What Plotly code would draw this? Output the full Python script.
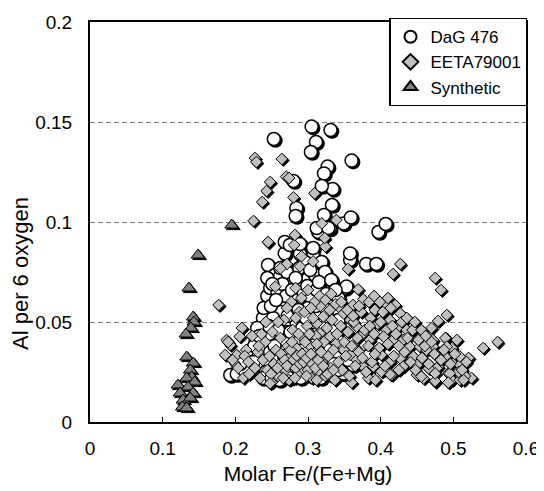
import plotly.graph_objects as go

# ---------------- data ----------------
SERIES_NAMES = ["DaG 476", "EETA79001", "Synthetic"]

DAG_POINTS = [
    (0.253, 0.1415), (0.305, 0.1477), (0.331, 0.146), (0.311, 0.140), (0.304, 0.135),
    (0.360, 0.1307), (0.327, 0.1277), (0.322, 0.1243), (0.334, 0.1165), (0.280, 0.1205),
    (0.319, 0.118), (0.284, 0.107), (0.283, 0.103), (0.333, 0.1085), (0.322, 0.1035),
    (0.349, 0.0993), (0.359, 0.1023), (0.330, 0.0968), (0.314, 0.095), (0.397, 0.095),
    (0.407, 0.099), (0.268, 0.0843), (0.289, 0.084), (0.307, 0.083), (0.358, 0.081),
    (0.312, 0.097), (0.328, 0.097), (0.268, 0.090), (0.275, 0.0885), (0.289, 0.089),
    (0.307, 0.087), (0.358, 0.0843), (0.380, 0.079), (0.394, 0.079), (0.351, 0.067),
    (0.245, 0.0785), (0.255, 0.0735), (0.353, 0.0677),
    (0.2546, 0.0735), (0.2615, 0.0727), (0.2707, 0.0677), (0.2798, 0.0702), (0.2913, 0.071),
    (0.3004, 0.0718), (0.3096, 0.0735), (0.3188, 0.080), (0.3234, 0.075),
    (0.250, 0.060), (0.243, 0.0577), (0.2546, 0.056), (0.266, 0.060), (0.275, 0.0568),
    (0.282, 0.0543), (0.291, 0.0585), (0.241, 0.0518), (0.250, 0.0485), (0.261, 0.051),
    (0.273, 0.0485), (0.284, 0.050), (0.2935, 0.0518), (0.305, 0.0535), (0.241, 0.045),
    (0.257, 0.0427), (0.271, 0.045), (0.296, 0.0485), (0.310, 0.046), (0.323, 0.050),
    (0.200, 0.0243), (0.193, 0.0235), (0.202, 0.024), (0.218, 0.0277), (0.215, 0.031),
    (0.222, 0.036), (0.228, 0.041), (0.232, 0.033), (0.236, 0.028), (0.240, 0.038),
    (0.245, 0.030), (0.248, 0.035), (0.252, 0.040), (0.255, 0.026), (0.258, 0.031),
    (0.262, 0.037), (0.266, 0.024), (0.270, 0.029), (0.275, 0.034), (0.279, 0.039),
    (0.283, 0.025), (0.287, 0.031), (0.292, 0.036), (0.297, 0.027), (0.302, 0.032),
    (0.306, 0.040), (0.311, 0.028), (0.316, 0.035), (0.321, 0.0243), (0.325, 0.030),
    (0.333, 0.0235), (0.338, 0.033), (0.349, 0.0243), (0.362, 0.0285), (0.381, 0.0327),
    (0.344, 0.040), (0.330, 0.043), (0.318, 0.041), (0.300, 0.044), (0.288, 0.042),
    (0.268, 0.041), (0.247, 0.044), (0.235, 0.046), (0.238, 0.052), (0.244, 0.063),
    (0.248, 0.067), (0.239, 0.057), (0.258, 0.065), (0.265, 0.069), (0.270, 0.063),
    (0.278, 0.066), (0.286, 0.061), (0.294, 0.064), (0.299, 0.068), (0.305, 0.062),
    (0.312, 0.066), (0.318, 0.060), (0.325, 0.064), (0.330, 0.058), (0.336, 0.054),
    (0.328, 0.052), (0.314, 0.055), (0.300, 0.057), (0.279, 0.058), (0.262, 0.055),
    (0.252, 0.052), (0.246, 0.048), (0.259, 0.046), (0.276, 0.045), (0.292, 0.047),
    (0.306, 0.050), (0.320, 0.047), (0.334, 0.047), (0.342, 0.051), (0.230, 0.047),
    (0.226, 0.038), (0.233, 0.043), (0.242, 0.025), (0.261, 0.021), (0.275, 0.022),
    (0.290, 0.022), (0.305, 0.023), (0.318, 0.022), (0.342, 0.026), (0.355, 0.031),
    (0.350, 0.037), (0.262, 0.077), (0.271, 0.075), (0.288, 0.077), (0.296, 0.080),
    (0.303, 0.076), (0.283, 0.072), (0.244, 0.072), (0.251, 0.069), (0.315, 0.070),
    (0.332, 0.071), (0.342, 0.062), (0.338, 0.066), (0.249, 0.058), (0.256, 0.061),
    (0.272, 0.053), (0.287, 0.056), (0.297, 0.052), (0.311, 0.058), (0.326, 0.056),
    (0.225, 0.030), (0.212, 0.026), (0.207, 0.029), (0.238, 0.022), (0.250, 0.022),
    (0.296, 0.029), (0.309, 0.034), (0.281, 0.030), (0.267, 0.033), (0.254, 0.038),
    (0.314, 0.027), (0.327, 0.036), (0.336, 0.029), (0.371, 0.030), (0.366, 0.035),
]

EETA_POINTS = [
    (0.227, 0.132), (0.229, 0.130), (0.264, 0.1315), (0.270, 0.1227), (0.274, 0.122),
    (0.248, 0.120), (0.243, 0.1155), (0.237, 0.110), (0.280, 0.1123), (0.309, 0.1143),
    (0.225, 0.1005), (0.319, 0.0993), (0.339, 0.101), (0.245, 0.0898), (0.281, 0.0885),
    (0.324, 0.0877), (0.177, 0.0585), (0.245, 0.090), (0.271, 0.079), (0.282, 0.0935),
    (0.323, 0.092), (0.291, 0.0828), (0.289, 0.0778), (0.307, 0.0803), (0.262, 0.0768),
    (0.355, 0.0765), (0.427, 0.079), (0.417, 0.074), (0.475, 0.072), (0.483, 0.066),
    (0.255, 0.0677),
    (0.491, 0.0535), (0.479, 0.0505), (0.470, 0.047), (0.561, 0.040), (0.541, 0.037),
    (0.521, 0.032), (0.525, 0.022), (0.505, 0.041), (0.490, 0.042), (0.509, 0.0285),
    (0.493, 0.0243), (0.498, 0.021), (0.509, 0.021), (0.516, 0.023), (0.475, 0.020),
    (0.459, 0.0218), (0.450, 0.0235), (0.415, 0.0235), (0.383, 0.022), (0.360, 0.0197),
    (0.250, 0.0197), (0.413, 0.0238), (0.404, 0.026),
    (0.507, 0.025), (0.514, 0.021), (0.495, 0.0243), (0.493, 0.0197), (0.475, 0.0205),
    (0.489, 0.042), (0.498, 0.037), (0.489, 0.0327), (0.479, 0.0327), (0.509, 0.0327),
    (0.479, 0.0277), (0.477, 0.0268), (0.472, 0.0377), (0.472, 0.041), (0.491, 0.0377),
    (0.369, 0.0663), (0.376, 0.0613), (0.362, 0.0585), (0.392, 0.056), (0.408, 0.0585),
    (0.420, 0.0585), (0.427, 0.0543), (0.413, 0.051), (0.408, 0.046), (0.422, 0.0468),
    (0.436, 0.046), (0.404, 0.0427), (0.417, 0.041), (0.431, 0.041), (0.440, 0.0377),
    (0.454, 0.0377), (0.463, 0.036), (0.445, 0.0327), (0.427, 0.0318), (0.413, 0.0302),
    (0.401, 0.0335), (0.395, 0.036), (0.385, 0.041), (0.376, 0.0443), (0.367, 0.0477),
    (0.358, 0.051), (0.349, 0.0543), (0.342, 0.0577), (0.330, 0.056), (0.321, 0.0527),
    (0.312, 0.0493), (0.3165, 0.0443), (0.330, 0.0427), (0.339, 0.0393), (0.349, 0.036),
    (0.358, 0.0335), (0.367, 0.031), (0.376, 0.0277), (0.390, 0.0277), (0.401, 0.0252),
    (0.431, 0.0277), (0.450, 0.0285), (0.466, 0.0268), (0.475, 0.0243), (0.456, 0.0227),
    (0.188, 0.041), (0.193, 0.0385), (0.186, 0.0335), (0.202, 0.0335), (0.200, 0.029),
    (0.204, 0.027), (0.209, 0.047), (0.206, 0.0427), (0.190, 0.040), (0.196, 0.031),
    (0.211, 0.022), (0.215, 0.036), (0.219, 0.024), (0.223, 0.043), (0.227, 0.027),
    (0.231, 0.035), (0.234, 0.022), (0.238, 0.031), (0.241, 0.040), (0.244, 0.026),
    (0.247, 0.033), (0.251, 0.045), (0.253, 0.029), (0.256, 0.036), (0.259, 0.023),
    (0.262, 0.042), (0.264, 0.030), (0.267, 0.051), (0.269, 0.026), (0.272, 0.038),
    (0.274, 0.021), (0.277, 0.033), (0.279, 0.046), (0.281, 0.028), (0.284, 0.037),
    (0.286, 0.024), (0.288, 0.055), (0.290, 0.031), (0.293, 0.042), (0.295, 0.026),
    (0.297, 0.035), (0.299, 0.048), (0.301, 0.029), (0.303, 0.038), (0.305, 0.022),
    (0.307, 0.052), (0.309, 0.032), (0.311, 0.043), (0.313, 0.025), (0.315, 0.037),
    (0.317, 0.058), (0.319, 0.030), (0.322, 0.040), (0.324, 0.023), (0.326, 0.047),
    (0.328, 0.033), (0.331, 0.027), (0.333, 0.051), (0.335, 0.036), (0.337, 0.021),
    (0.340, 0.044), (0.342, 0.030), (0.345, 0.048), (0.347, 0.026), (0.350, 0.040),
    (0.352, 0.033), (0.355, 0.045), (0.357, 0.023), (0.360, 0.038), (0.363, 0.050),
    (0.365, 0.028), (0.368, 0.042), (0.370, 0.035), (0.373, 0.055), (0.375, 0.032),
    (0.378, 0.046), (0.380, 0.025), (0.383, 0.038), (0.386, 0.052), (0.388, 0.030),
    (0.391, 0.044), (0.393, 0.021), (0.396, 0.049), (0.398, 0.037), (0.403, 0.055),
    (0.406, 0.028), (0.410, 0.039), (0.414, 0.057), (0.418, 0.033), (0.421, 0.044),
    (0.425, 0.026), (0.429, 0.050), (0.433, 0.035), (0.437, 0.042), (0.441, 0.030),
    (0.444, 0.046), (0.448, 0.026), (0.452, 0.041), (0.457, 0.032), (0.461, 0.038),
    (0.466, 0.029), (0.470, 0.040), (0.474, 0.034), (0.483, 0.031), (0.487, 0.036),
    (0.496, 0.029), (0.502, 0.034), (0.512, 0.026), (0.518, 0.030),
    (0.263, 0.034), (0.268, 0.031), (0.271, 0.028), (0.276, 0.036), (0.280, 0.031),
    (0.283, 0.027), (0.285, 0.033), (0.289, 0.029), (0.292, 0.034), (0.294, 0.030),
    (0.298, 0.032), (0.300, 0.026), (0.304, 0.034), (0.306, 0.029), (0.310, 0.027),
    (0.314, 0.031), (0.318, 0.035), (0.321, 0.028), (0.278, 0.040), (0.287, 0.044),
    (0.296, 0.040), (0.302, 0.044), (0.312, 0.039), (0.258, 0.027), (0.249, 0.024),
    (0.266, 0.022), (0.282, 0.022), (0.298, 0.023), (0.312, 0.021), (0.327, 0.024),
    (0.335, 0.026),
    (0.277, 0.060), (0.291, 0.062), (0.300, 0.066), (0.309, 0.060),
    (0.316, 0.063), (0.324, 0.061), (0.332, 0.064), (0.338, 0.059), (0.271, 0.057),
    (0.283, 0.052), (0.295, 0.055), (0.304, 0.057), (0.242, 0.050),
    (0.236, 0.044), (0.232, 0.038), (0.213, 0.033), (0.218, 0.030), (0.259, 0.050),
    (0.346, 0.060), (0.354, 0.056), (0.362, 0.053), (0.370, 0.058), (0.384, 0.060),
    (0.391, 0.063), (0.399, 0.060), (0.410, 0.062), (0.400, 0.050), (0.385, 0.048),
    (0.392, 0.034), (0.416, 0.048), (0.425, 0.038), (0.436, 0.052), (0.447, 0.050),
    (0.456, 0.046), (0.462, 0.043), (0.283, 0.067), (0.2477, 0.0193),
]

SYNTH_POINTS = [
    (0.195, 0.0985), (0.1486, 0.0835), (0.136, 0.067), (0.142, 0.0525), (0.143, 0.050),
    (0.139, 0.047), (0.132, 0.044), (0.133, 0.0325), (0.142, 0.0295), (0.138, 0.026),
    (0.140, 0.0225), (0.133, 0.022), (0.144, 0.020), (0.121, 0.0185), (0.135, 0.0175),
    (0.124, 0.0145), (0.142, 0.0145), (0.128, 0.011), (0.138, 0.012), (0.127, 0.0075),
    (0.133, 0.007),
]

X_TICKS = [0, 0.1, 0.2, 0.3, 0.4, 0.5, 0.6]
X_TICK_TEXT = ["0", "0.1", "0.2", "0.3", "0.4", "0.5", "0.6"]
Y_TICKS = [0, 0.05, 0.1, 0.15, 0.2]
Y_TICK_TEXT = ["0", "0.05", "0.1", "0.15", "0.2"]
X_TITLE = "Molar Fe/(Fe+Mg)"
Y_TITLE = "Al per 6 oxygen"

# ---------------- layout constants ----------------
# the page body has an 8px margin, so the figure starts at (8, 8) in the window
W, H = 536, 483
ML, MR, MT, MB = 82, 18, 14, 69
PW, PH = W - ML - MR, H - MT - MB
XR = [0, 0.6]
YR = [0, 0.2]
SHADOW_PX = 1.6
dx = SHADOW_PX * (XR[1] - XR[0]) / PW
dy = SHADOW_PX * (YR[1] - YR[0]) / PH

FONT = "Liberation Sans, Arial, sans-serif"

styles = [
    dict(symbol="circle", size=13, color="white", line=dict(color="black", width=1.5)),
    dict(symbol="diamond", size=9, color="#c0c0c0", line=dict(color="black", width=1)),
    dict(symbol="triangle-up", size=12, color="#808080", line=dict(color="black", width=1)),
]
datasets = [DAG_POINTS, EETA_POINTS, SYNTH_POINTS]

fig = go.Figure()

# empty trace so the main (visible) axes are drawn
fig.add_trace(go.Scatter(x=[None], y=[None], mode="markers", xaxis="x", yaxis="y",
                         showlegend=False, hoverinfo="skip"))

# shadow layer: hidden overlay axes x2/y2 whose ranges are shifted a couple of pixels
for pts, st in zip(datasets, styles):
    fig.add_trace(go.Scatter(
        x=[p[0] for p in pts], y=[p[1] for p in pts], mode="markers",
        marker=dict(symbol=st["symbol"], size=st["size"], color="black",
                    line=dict(color="black", width=st["line"]["width"])),
        xaxis="x2", yaxis="y2", showlegend=False, hoverinfo="skip"))

# visible series on hidden overlay axes x3/y3 (same range as the main axes)
for name, pts, st in zip(SERIES_NAMES, datasets, styles):
    fig.add_trace(go.Scatter(
        x=[p[0] for p in pts], y=[p[1] for p in pts], mode="markers", name=name,
        marker=st, xaxis="x3", yaxis="y3"))

hidden = dict(showgrid=False, zeroline=False, showticklabels=False, ticks="",
              showline=False)

fig.update_layout(
    width=W, height=H,
    margin=dict(l=ML, r=MR, t=MT, b=MB, autoexpand=False),
    paper_bgcolor="white", plot_bgcolor="white",
    font=dict(family=FONT, size=19, color="black"),
    showlegend=True,
    legend=dict(x=1.003, y=1.01, xanchor="right", yanchor="top",
                bgcolor="white", bordercolor="black", borderwidth=1.2,
                font=dict(size=17), tracegroupgap=0, itemsizing="constant"),
    xaxis=dict(range=XR, tickvals=X_TICKS, ticktext=X_TICK_TEXT,
               ticks="inside", ticklen=5, tickcolor="black", tickwidth=1,
               ticklabelstandoff=8,
               showline=True, linecolor="black", linewidth=2, mirror=True,
               showgrid=False, zeroline=False,
               title=dict(text=X_TITLE, font=dict(size=21), standoff=9),
               tickfont=dict(size=19)),
    yaxis=dict(range=YR, tickvals=Y_TICKS, ticktext=Y_TICK_TEXT, ticks="",
               ticklabelstandoff=12,
               showline=True, linecolor="black", linewidth=2, mirror=True,
               showgrid=True, gridcolor="#808080", gridwidth=1, griddash="5px,3px",
               zeroline=False, tickfont=dict(size=19)),
    xaxis2=dict(range=[XR[0] - dx, XR[1] - dx], overlaying="x", anchor="y2", **hidden),
    yaxis2=dict(range=[YR[0] + dy, YR[1] + dy], overlaying="y", anchor="x2", **hidden),
    xaxis3=dict(range=XR, overlaying="x", anchor="y3", **hidden),
    yaxis3=dict(range=YR, overlaying="y", anchor="x3", **hidden),
    annotations=[dict(text=Y_TITLE, textangle=-90, xref="paper", yref="paper",
                      x=0, y=0.37, xshift=-70, xanchor="center", yanchor="middle",
                      showarrow=False, font=dict(size=22, family=FONT, color="black"))],
)

fig.write_html("out.html")
